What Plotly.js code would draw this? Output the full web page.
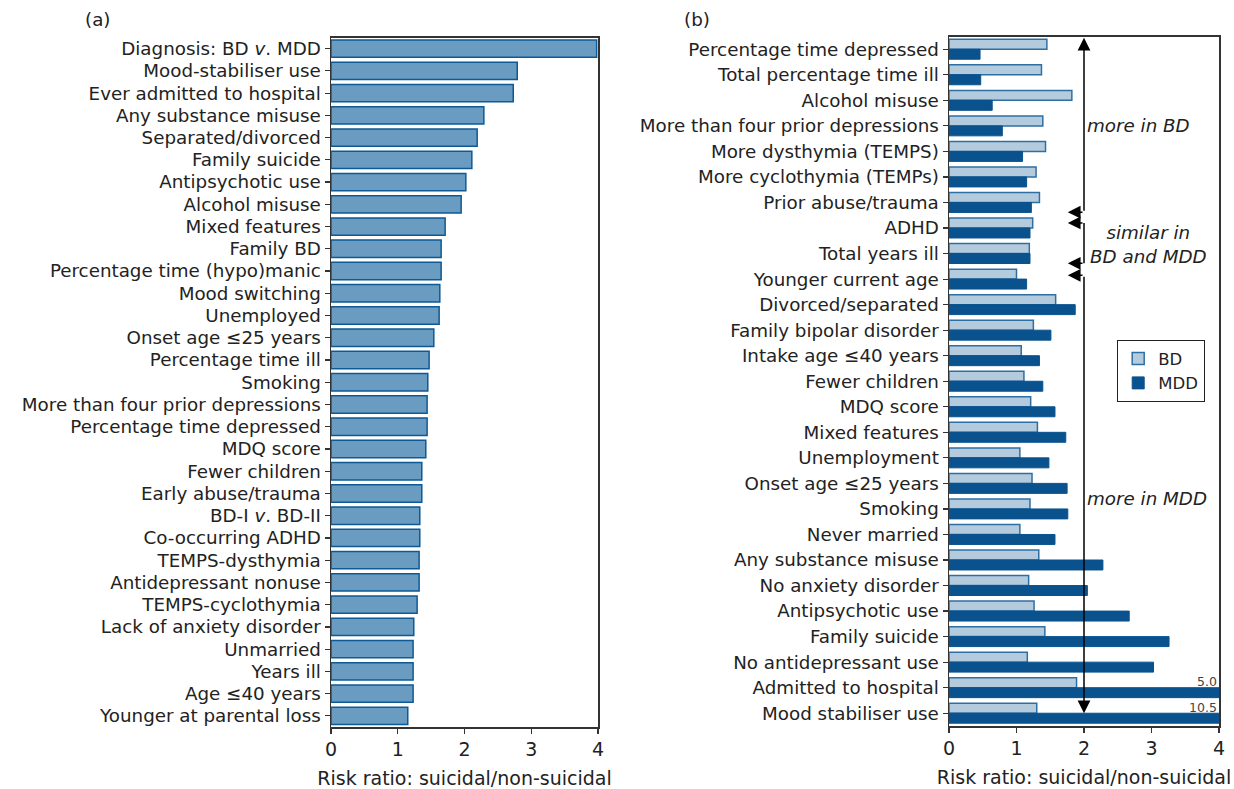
<!DOCTYPE html>
<html><head><meta charset="utf-8">
<script src="https://cdn.plot.ly/plotly-3.0.1.min.js"></script>
<style>body{margin:0;padding:0;background:#fff}#chart{width:1234px;height:789px}</style>
</head><body><div id="chart"></div>
<script>
const leftCats = ["Diagnosis: BD <i>v</i>. MDD","Mood-stabiliser use","Ever admitted to hospital","Any substance misuse","Separated/divorced","Family suicide","Antipsychotic use","Alcohol misuse","Mixed features","Family BD","Percentage time (hypo)manic","Mood switching","Unemployed","Onset age \u226425 years","Percentage time ill","Smoking","More than four prior depressions","Percentage time depressed","MDQ score","Fewer children","Early abuse/trauma","BD-I <i>v</i>. BD-II","Co-occurring ADHD","TEMPS-dysthymia","Antidepressant nonuse","TEMPS-cyclothymia","Lack of anxiety disorder","Unmarried","Years ill","Age \u226440 years","Younger at parental loss"];
const leftVals = [3.98,2.79,2.73,2.29,2.19,2.11,2.02,1.95,1.71,1.65,1.65,1.63,1.62,1.54,1.47,1.45,1.44,1.44,1.42,1.36,1.36,1.33,1.33,1.32,1.32,1.29,1.24,1.23,1.23,1.23,1.15];

const rightCats = ["Percentage time depressed","Total percentage time ill","Alcohol misuse","More than four prior depressions","More dysthymia (TEMPS)","More cyclothymia (TEMPs)","Prior abuse/trauma","ADHD","Total years ill","Younger current age","Divorced/separated","Family bipolar disorder","Intake age \u226440 years","Fewer children","MDQ score","Mixed features","Unemployment","Onset age \u226425 years","Smoking","Never married","Any substance misuse","No anxiety disorder","Antipsychotic use","Family suicide","No antidepressant use","Admitted to hospital","Mood stabiliser use"];
const bdVals = [1.45,1.37,1.82,1.39,1.43,1.29,1.34,1.24,1.19,1.00,1.58,1.25,1.07,1.11,1.21,1.31,1.05,1.23,1.20,1.05,1.33,1.18,1.26,1.42,1.16,1.89,1.30];
const mddVals = [0.46,0.47,0.64,0.79,1.09,1.15,1.22,1.20,1.20,1.15,1.87,1.51,1.34,1.39,1.57,1.73,1.48,1.75,1.76,1.57,2.28,2.05,2.67,3.26,3.03,5.0,10.5];
const overflowLabels = ["5.0","10.5"];
const xTicks = [0,1,2,3,4];

const FONT = "DejaVu Sans, sans-serif";
const FS = 18.3;
const FT = 19;
const txt = "#222";

const traces = [
  {type:"bar", orientation:"h", y:leftCats, x:leftVals, xaxis:"x", yaxis:"y", showlegend:false,
   marker:{color:"#6a9bc0", line:{color:"#0d5a96", width:1.5}}},
  {type:"bar", orientation:"h", name:"BD", y:rightCats, x:bdVals, xaxis:"x2", yaxis:"y2",
   marker:{color:"#b4cbde", line:{color:"#2e6fa3", width:1.5}}},
  {type:"bar", orientation:"h", name:"MDD", y:rightCats, x:mddVals, xaxis:"x2", yaxis:"y2",
   marker:{color:"#0a528e", line:{color:"#0a528e", width:1}}}
];

const axCommon = {showgrid:false, zeroline:false, showline:true, linecolor:"#333", linewidth:1.5, mirror:true,
  ticks:"outside", ticklen:5, tickwidth:1.2, tickcolor:"#333", tickfont:{family:FONT, size:FS, color:txt}};

const axTitle = {text:"Risk ratio: suicidal/non-suicidal", font:{family:FONT, size:FT, color:txt}, standoff:12};

const ann = [];
function arrow(x, y, ax, ay) {
  ann.push({x:x, y:y, ax:ax, ay:ay, xref:"x2", yref:"y2", axref:"x2", ayref:"y2", text:"", showarrow:true,
    arrowhead:2, arrowsize:1.7, arrowwidth:1.5, arrowcolor:"#000"});
}
// top segment: up arrow + left arrow
arrow(2, -0.45, 2, 6.38);
arrow(1.76, 6.38, 2, 6.38);
// middle bracket
arrow(1.76, 6.8, 2, 6.8);
arrow(1.76, 8.38, 2, 8.38);
// bottom segment
arrow(1.76, 8.85, 2, 8.85);
arrow(2, 26.0, 2, 8.85);

const shapes = [
  {type:"line", xref:"x2", yref:"y2", x0:2, x1:2, y0:6.8, y1:8.38, line:{color:"#000", width:1.5}}
];

const itFont = {family:FONT, size:FS, color:txt};
ann.push({xref:"x2", yref:"y2", x:2.8, y:3, text:"<i>more in BD</i>", showarrow:false, font:itFont});
ann.push({xref:"x2", yref:"y2", x:2.95, y:7.65, text:"<i>similar in<br>BD and MDD</i>", showarrow:false, font:itFont});
ann.push({xref:"x2", yref:"y2", x:2.93, y:17.6, text:"<i>more in MDD</i>", showarrow:false, font:itFont});
ann.push({xref:"x2", yref:"y2", x:4, y:25, yshift:6, xanchor:"right", yanchor:"middle", text:overflowLabels[0], showarrow:false, font:{family:FONT, size:12.5, color:"#444"}});
ann.push({xref:"x2", yref:"y2", x:4, y:26, yshift:6, xanchor:"right", yanchor:"middle", text:overflowLabels[1], showarrow:false, font:{family:FONT, size:12.5, color:"#444"}});
ann.push({xref:"paper", yref:"paper", x:97/1234, y:(789-20)/789, xanchor:"center", yanchor:"middle", text:"(a)", showarrow:false, font:{family:FONT, size:FS, color:txt}});
ann.push({xref:"paper", yref:"paper", x:697/1234, y:(789-20)/789, xanchor:"center", yanchor:"middle", text:"(b)", showarrow:false, font:{family:FONT, size:FS, color:txt}});

const layout = {
  width:1234, height:789, margin:{l:0, r:0, t:0, b:0},
  paper_bgcolor:"#fff", plot_bgcolor:"#fff", font:{family:FONT, color:txt},
  barmode:"group", bargap:0.22, bargroupgap:0,
  xaxis:Object.assign({}, axCommon, {domain:[331/1234, 598/1234], range:[0,4], tickvals:xTicks, title:axTitle, anchor:"y", tickfont:{family:FONT, size:FT, color:txt}}),
  yaxis:Object.assign({}, axCommon, {domain:[(789-727)/789, (789-37.5)/789], range:[30.5,-0.5], type:"category", categoryorder:"array", categoryarray:leftCats, anchor:"x",
    tickmode:"linear", tick0:0, dtick:1}),
  xaxis2:Object.assign({}, axCommon, {domain:[949/1234, 1219/1234], range:[0,4], tickvals:xTicks, title:axTitle, anchor:"y2", tickfont:{family:FONT, size:FT, color:txt}}),
  yaxis2:Object.assign({}, axCommon, {domain:[(789-726)/789, (789-36.5)/789], range:[26.5,-0.5], type:"category", categoryorder:"array", categoryarray:rightCats, anchor:"x2",
    tickmode:"linear", tick0:0, dtick:1}),
  legend:{x:1117/1234, y:(789-340)/789, xanchor:"left", yanchor:"top", bgcolor:"#fff", bordercolor:"#222", borderwidth:1.2,
    font:{family:FONT, size:16.5, color:txt}, traceorder:"normal", itemwidth:30, tracegroupgap:0},
  annotations:ann, shapes:shapes, showlegend:true
};

Plotly.newPlot("chart", traces, layout, {displayModeBar:false, staticPlot:true});
</script></body></html>
